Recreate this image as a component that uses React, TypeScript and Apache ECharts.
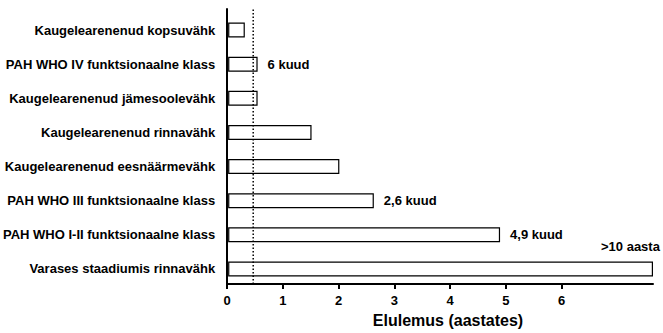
import React, { useEffect, useRef } from "react";
import * as echarts from "echarts";

const categories = [
  "Kaugelearenenud kopsuvähk",
  "PAH WHO IV funktsionaalne klass",
  "Kaugelearenenud jämesoolevähk",
  "Kaugelearenenud rinnavähk",
  "Kaugelearenenud eesnäärmevähk",
  "PAH WHO III funktsionaalne klass",
  "PAH WHO I-II funktsionaalne klass",
  "Varases staadiumis rinnavähk",
];
const survivalYears = [0.3, 0.53, 0.53, 1.5, 2.0, 2.62, 4.89, 7.64];
const barLabels = ["", "6 kuud", "", "", "", "2,6 kuud", "4,9 kuud", ">10 aasta"];
const xTicks = [0, 1, 2, 3, 4, 5, 6];
const xMax = 7.64;
const referenceLine = 0.47;
const axisTitle = "Elulemus (aastates)";

const FONT = "'Liberation Sans', Arial, Helvetica, sans-serif";

export default function App() {
  const ref = useRef<HTMLDivElement>(null);
  useEffect(() => {
    if (!ref.current) return;
    const chart = echarts.init(ref.current, undefined, { renderer: "svg" });
    const lastIdx = survivalYears.length - 1;
    chart.setOption({
      animation: false,
      backgroundColor: "#fff",
      textStyle: { fontFamily: FONT },
      grid: [
        { left: 227, right: 10, top: 9, bottom: 44 },
        { left: 227, right: 10, top: 13, bottom: 47 },
      ],
      xAxis: [
        {
          gridIndex: 0,
          type: "value",
          min: 0,
          max: xMax,
          axisLine: { show: true, lineStyle: { color: "#000", width: 2 } },
          axisTick: {
            show: true,
            customValues: xTicks,
            length: 5,
            lineStyle: { color: "#000", width: 2 },
          },
          axisLabel: {
            customValues: xTicks,
            margin: 10,
            color: "#000",
            fontWeight: "bold",
            fontSize: 13,
            fontFamily: FONT,
          },
          splitLine: { show: false },
          name: axisTitle,
          nameLocation: "middle",
          nameGap: 28,
          nameTextStyle: {
            color: "#000",
            fontWeight: "bold",
            fontSize: 16,
            fontFamily: FONT,
            padding: [0, 0, 0, 16],
          },
        },
        {
          gridIndex: 1,
          type: "value",
          min: 0,
          max: xMax,
          show: false,
        },
      ],
      yAxis: [
        {
          gridIndex: 0,
          type: "value",
          min: 0,
          max: 1,
          axisLine: { show: true, lineStyle: { color: "#000", width: 2 } },
          axisTick: { show: false },
          axisLabel: { show: false },
          splitLine: { show: false },
        },
        {
          gridIndex: 1,
          type: "category",
          inverse: true,
          data: categories,
          axisLine: { show: false },
          axisTick: { show: false },
          axisLabel: {
            margin: 13,
            color: "#000",
            fontWeight: "bold",
            fontSize: 13,
            fontFamily: FONT,
          },
        },
      ],
      series: [
        {
          type: "line",
          xAxisIndex: 0,
          yAxisIndex: 0,
          data: [
            [referenceLine, 0],
            [referenceLine, 1],
          ],
          symbol: "none",
          lineStyle: { color: "#000", width: 1.5, type: [1.5, 2] },
          silent: true,
          z: 3,
        },
        {
          type: "bar",
          xAxisIndex: 1,
          yAxisIndex: 1,
          barWidth: 15,
          z: 2,
          data: survivalYears.map((v, i) => ({
            value: v,
            label: barLabels[i]
              ? {
                  show: true,
                  formatter: barLabels[i],
                  position: "right",
                  distance: i === lastIdx ? 5 : 10,
                  offset: i === lastIdx ? [-57, -22] : [0, 0],
                  color: "#000",
                  fontWeight: "bold",
                  fontSize: 13,
                  fontFamily: FONT,
                }
              : { show: false },
          })),
          itemStyle: { color: "#fff", borderColor: "#000", borderWidth: 1.2 },
        },
      ],
    });
    return () => chart.dispose();
  }, []);
  return (
    <div
      ref={ref}
      style={{ position: "absolute", left: 0, top: 0, width: 663, height: 333 }}
    />
  );
}
